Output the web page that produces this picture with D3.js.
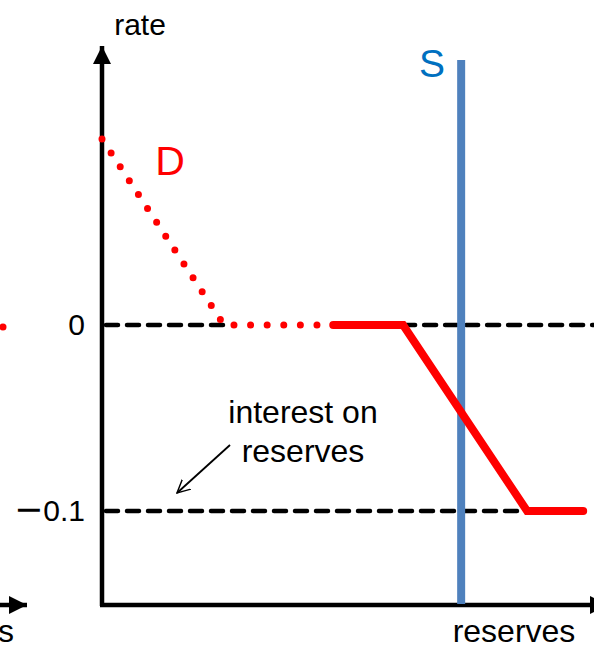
<!DOCTYPE html>
<html><head><meta charset="utf-8">
<script src="https://cdn.jsdelivr.net/npm/d3@7"></script>
<style>html,body{margin:0;padding:0;background:#fff;overflow:hidden}</style>
</head><body>
<svg id="c" width="594" height="647"></svg>
<script>
// ---- data ----
const rateTicks = [0, -0.1];
const rateTickLabels = ["0", "\u22120.1"];
const demandDottedReserves = [0, 2.48, 4.6];
const demandDottedRate = [0.1, 0, 0];
const demandSolidReserves = [4.7, 6.12, 8.64, 9.78];
const demandSolidRate = [0, 0, -0.1, -0.1];
const supplyReserves = [7.3, 7.3];
const supplyRate = [-0.15, 0.1425];
const axisLabels = {x: "reserves", y: "rate"};

const svg = d3.select("#c");
const font = "'Liberation Sans', Arial, sans-serif";
const x = d3.scaleLinear().domain([0, 10]).range([102, 594]);
const y = d3.scaleLinear().domain([-0.15, 0.15]).range([604, 46]);

const defs = svg.append("defs");
defs.append("marker").attr("id","ah").attr("viewBox","0 0 10 10").attr("refX",10).attr("refY",5)
  .attr("markerWidth",4).attr("markerHeight",4).attr("markerUnits","strokeWidth").attr("orient","auto")
  .append("path").attr("d","M0,0L10,5L0,10Z").attr("fill","#000");
defs.append("marker").attr("id","oa").attr("viewBox","0 0 10 10").attr("refX",9).attr("refY",5)
  .attr("markerWidth",8).attr("markerHeight",8).attr("markerUnits","strokeWidth").attr("orient","auto")
  .append("path").attr("d","M0,0.5L9,5L0,9.5").attr("fill","none").attr("stroke","#000").attr("stroke-width",1);

// neighbouring panel remnants (cropped)
svg.append("line").attr("x1",-10).attr("x2",27).attr("y1",605).attr("y2",605)
  .attr("stroke","#000").attr("stroke-width",4.5).attr("marker-end","url(#ah)");
svg.append("text").attr("x",14).attr("y",642).attr("text-anchor","end")
  .attr("font-family",font).attr("font-size",32).text(axisLabels.x);
svg.append("circle").attr("cx",3).attr("cy",y(0)+2).attr("r",3.5).attr("fill","#f00");

// dashed reference lines
const dash = {stroke:"#000", w:4.5, da:"12,9"};
function dline(x1,x2,r){
  svg.append("line").attr("x1",x1).attr("x2",x2).attr("y1",y(r)).attr("y2",y(r))
    .attr("stroke",dash.stroke).attr("stroke-width",dash.w).attr("stroke-dasharray",dash.da).attr("stroke-linecap","round");
}
dline(x(0)+4, x(demandDottedReserves[1]), 0);
dline(x(demandSolidReserves[1]), 600, 0);
dline(x(0)+4, x(demandSolidReserves[2]), -0.1);

// axes
svg.append("line").attr("x1",x(0)).attr("x2",x(0)).attr("y1",y(-0.15)+2).attr("y2",y(0.15))
  .attr("stroke","#000").attr("stroke-width",4.5).attr("marker-end","url(#ah)");
svg.append("line").attr("x1",x(0)-2).attr("x2",608).attr("y1",y(-0.15)+1).attr("y2",y(-0.15)+1)
  .attr("stroke","#000").attr("stroke-width",4.5).attr("marker-end","url(#ah)");

// tick labels
rateTicks.forEach((t,i)=>{
  const lab = rateTickLabels[i];
  const tx = svg.append("text").attr("x",85).attr("y",y(t)+10).attr("text-anchor","end")
    .attr("font-family",font).attr("font-size",30);
  if (lab.startsWith("\u2212")) {
    tx.append("tspan").attr("font-family","'DejaVu Sans'").attr("font-size",35).text("\u2212");
    tx.append("tspan").text(lab.slice(1));
  } else tx.text(lab);
});
svg.append("text").attr("x",140).attr("y",35).attr("text-anchor","middle")
  .attr("font-family",font).attr("font-size",30).text(axisLabels.y);
svg.append("text").attr("x",514).attr("y",642).attr("text-anchor","middle")
  .attr("font-family",font).attr("font-size",32).text(axisLabels.x);

// supply
const line = d3.line().x(d=>x(d[0])).y(d=>y(d[1]));
svg.append("path").attr("d", line(d3.zip(supplyReserves, supplyRate)))
  .attr("stroke","#4F81BD").attr("stroke-width",8).attr("fill","none");
svg.append("text").attr("x",432).attr("y",77).attr("text-anchor","middle")
  .attr("font-family",font).attr("font-size",39).attr("fill","#0070C0").text("S");

// demand
svg.append("path").attr("d", line(d3.zip(demandDottedReserves, demandDottedRate)))
  .attr("stroke","#f00").attr("stroke-width",7).attr("fill","none")
  .attr("stroke-linecap","round").attr("stroke-dasharray","0,16.6");
svg.append("path").attr("d", line(d3.zip(demandSolidReserves, demandSolidRate)))
  .attr("stroke","#f00").attr("stroke-width",8).attr("fill","none")
  .attr("stroke-linecap","round").attr("stroke-linejoin","miter");
svg.append("text").attr("x",170).attr("y",175).attr("text-anchor","middle")
  .attr("font-family",font).attr("font-size",41).attr("fill","#f00").text("D");

// annotation
svg.append("text").attr("x",303).attr("y",423).attr("text-anchor","middle")
  .attr("font-family",font).attr("font-size",32).text("interest on");
svg.append("text").attr("x",303).attr("y",462).attr("text-anchor","middle")
  .attr("font-family",font).attr("font-size",32).text("reserves");
svg.append("line").attr("x1",230).attr("y1",445).attr("x2",177).attr("y2",493)
  .attr("stroke","#000").attr("stroke-width",1.8).attr("marker-end","url(#oa)");
</script>
</body></html>
